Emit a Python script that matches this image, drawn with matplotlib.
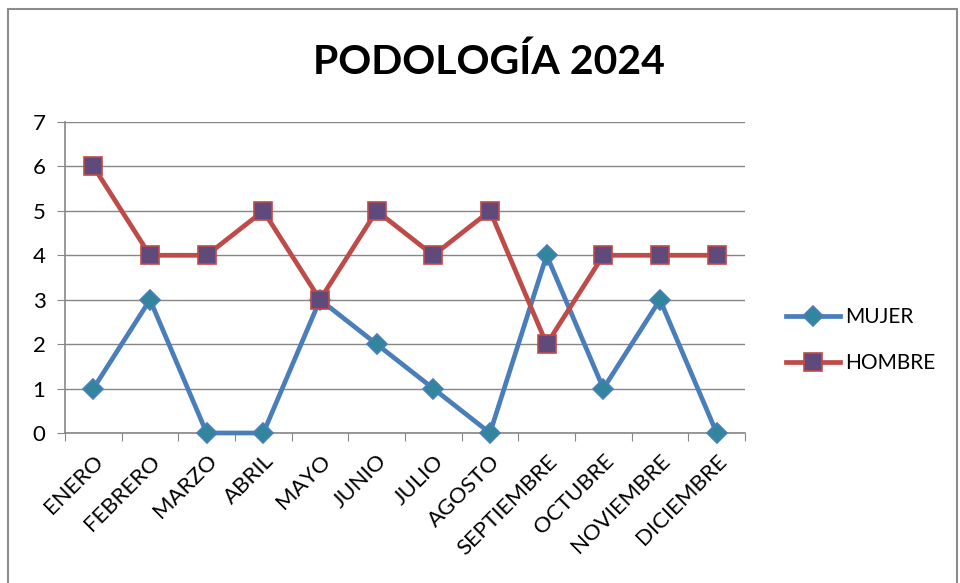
import matplotlib
matplotlib.use("Agg")
import matplotlib.pyplot as plt
from matplotlib.patches import Rectangle

months = ["ENERO", "FEBRERO", "MARZO", "ABRIL", "MAYO", "JUNIO", "JULIO",
          "AGOSTO", "SEPTIEMBRE", "OCTUBRE", "NOVIEMBRE", "DICIEMBRE"]
mujer = [1, 3, 0, 0, 3, 2, 1, 0, 4, 1, 3, 0]
hombre = [6, 4, 4, 5, 3, 5, 4, 5, 2, 4, 4, 4]

plt.rcParams['font.family'] = ['Lato', 'DejaVu Sans']

W, H = 960, 583
fig = plt.figure(figsize=(9.6, 5.83), dpi=100)
fig.patch.set_facecolor("white")

# outer frame
fig.patches.append(Rectangle((8 / W, -0.1), (957 - 8) / W, 1.1 - 9 / H,
                             transform=fig.transFigure, fill=False,
                             edgecolor="#8c8c8c", linewidth=1.5))

ax = fig.add_axes([65 / W, 1 - 433 / H, (745 - 65) / W, (433 - 122) / H])
x = list(range(len(months)))

ax.plot(x, mujer, color="#4A7EBB", linewidth=3.4, marker="D", markersize=10.5,
        markerfacecolor="#31859C", markeredgecolor="#4A7EBB", markeredgewidth=1.2,
        label="MUJER", zorder=3, clip_on=False)
ax.plot(x, hombre, color="#BE4B48", linewidth=3.4, marker="s", markersize=13,
        markerfacecolor="#604A7B", markeredgecolor="#BE4B48", markeredgewidth=1.2,
        label="HOMBRE", zorder=4, clip_on=False)

ax.set_xlim(-0.5, len(months) - 0.5)
ax.set_ylim(0, 7)
ax.set_yticks(range(0, 8))
ax.yaxis.grid(True, color="#868686", linewidth=1)
ax.set_axisbelow(True)
for s in ["top", "right"]:
    ax.spines[s].set_visible(False)
for s in ["left", "bottom"]:
    ax.spines[s].set_color("#868686")
    ax.spines[s].set_linewidth(1.2)

ax.set_xticks([i - 0.5 for i in range(len(months) + 1)], minor=False)
ax.set_xticklabels([])
ax.set_xticks(x, minor=True)
ax.set_xticklabels(months, minor=True, rotation=45, ha="right", va="top",
                   rotation_mode="anchor", fontsize=16)
ax.tick_params(axis="x", which="major", direction="out", length=6, color="#868686")
ax.tick_params(axis="x", which="minor", length=0, pad=13)
ax.tick_params(axis="y", direction="out", length=6, color="#868686", labelsize=16, pad=8)

fig.text(489 / W, 1 - 62 / H, "PODOLOGÍA 2024", ha="center", va="center",
         fontsize=29.5, fontweight="bold")

leg = ax.legend(loc="center left", bbox_to_anchor=(767 / W, 1 - 340 / H),
                bbox_transform=fig.transFigure, frameon=False, fontsize=15,
                handlelength=2.6, labelspacing=1.25, handletextpad=0.25,
                borderpad=0.4)

fig.savefig("out.png", dpi=100)
